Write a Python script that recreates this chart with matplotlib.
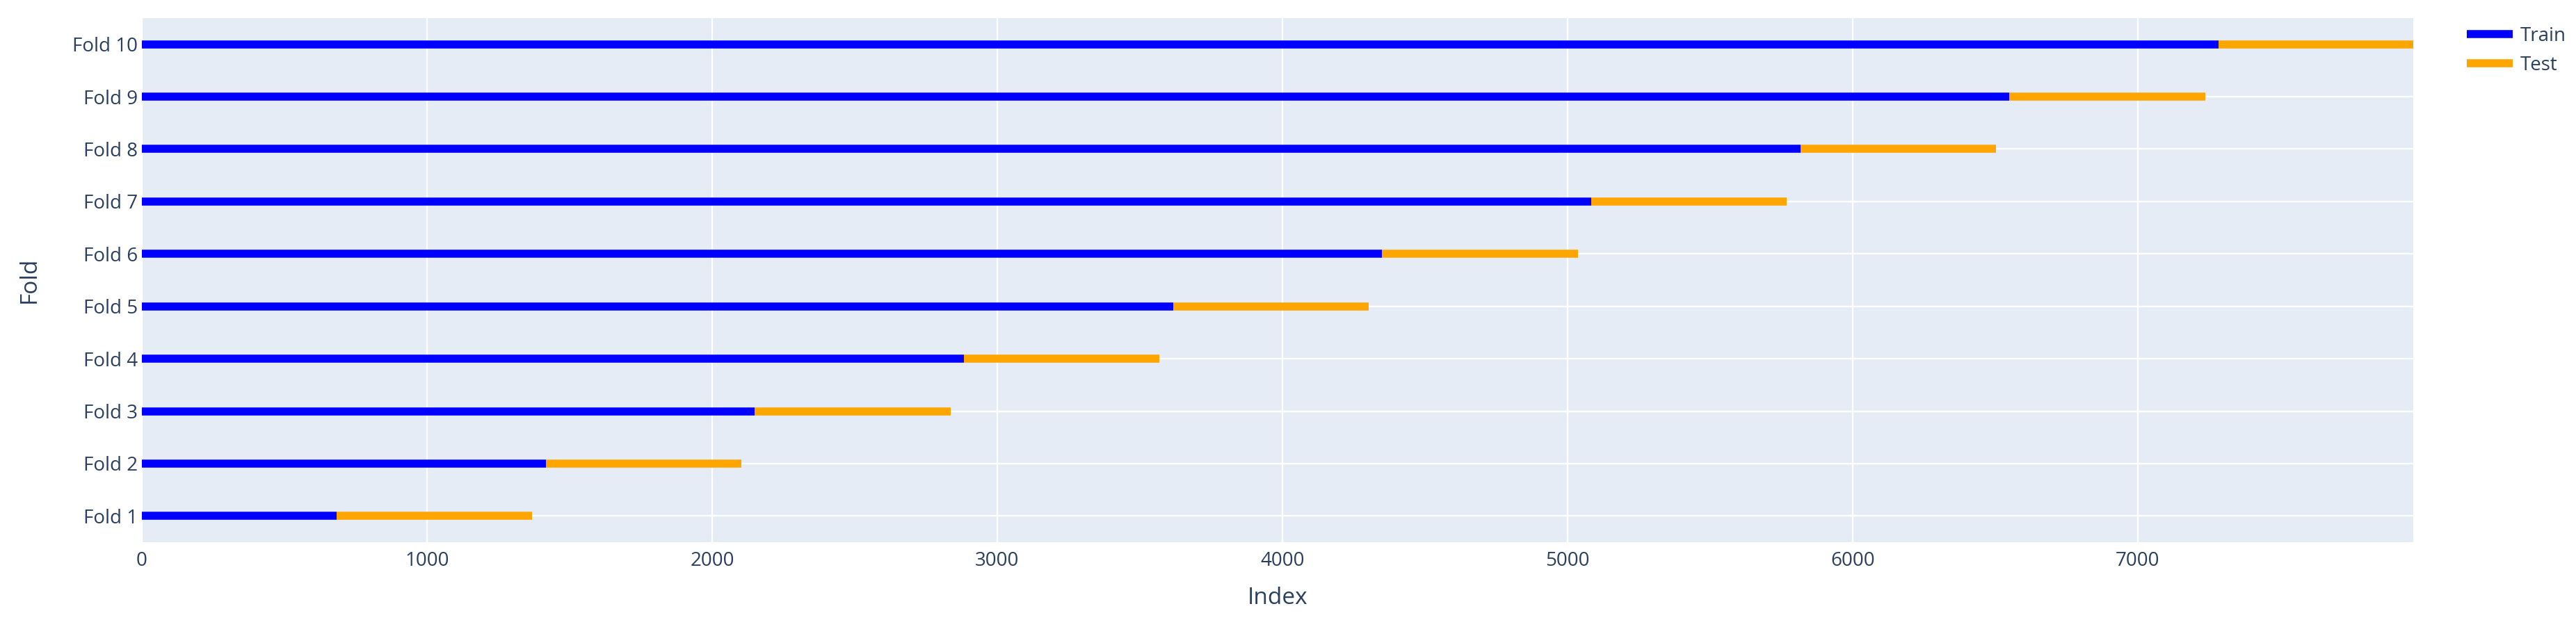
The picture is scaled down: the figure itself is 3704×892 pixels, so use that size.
import matplotlib
matplotlib.use("Agg")
import matplotlib.pyplot as plt

# fold data (index ranges)
folds = ["Fold 1", "Fold 2", "Fold 3", "Fold 4", "Fold 5",
         "Fold 6", "Fold 7", "Fold 8", "Fold 9", "Fold 10"]
train_start = [0, 0, 0, 0, 0, 0, 0, 0, 0, 0]
train_end = [682, 1416, 2150, 2883, 3616, 4350, 5083, 5816, 6550, 7283]
test_end = [1369, 2103, 2836, 3569, 4303, 5036, 5769, 6503, 7236, 7966]
x_ticks = [0, 1000, 2000, 3000, 4000, 5000, 6000, 7000]

plt.rcParams['font.family'] = ['Open Sans', 'DejaVu Sans']
txt_col = '#2a3f5f'

W, H = 3705, 892
fig = plt.figure(figsize=(W / 100, H / 100), dpi=100)
ax = fig.add_axes([204 / W, (H - 780) / H, (3470 - 204) / W, (780 - 26) / H])
ax.set_facecolor('#E5ECF6')

lw = 8.3
for i in range(len(folds)):
    ax.plot([train_start[i], train_end[i]], [i, i], color='blue',
            lw=lw, solid_capstyle='butt', label='Train' if i == 0 else None)
    ax.plot([train_end[i], test_end[i]], [i, i], color='orange',
            lw=lw, solid_capstyle='butt', label='Test' if i == 0 else None)

ax.set_xlim(0, max(test_end))
ax.set_ylim(-0.5, len(folds) - 0.5)
ax.set_xticks(x_ticks)
ax.set_yticks(range(len(folds)))
ax.set_yticklabels(folds)
ax.grid(True, color='white', lw=1.7)
ax.set_axisbelow(True)
for s in ax.spines.values():
    s.set_visible(False)
ax.tick_params(length=0, labelsize=20, labelcolor=txt_col, pad=4)
ax.tick_params(axis='x', pad=9)

ax.set_xlabel('Index', fontsize=24, color=txt_col, labelpad=17)
ax.set_ylabel('Fold', fontsize=24, color=txt_col, labelpad=33)

leg = fig.legend(loc='upper left', bbox_to_anchor=(3547 / W, 1 - 38 / H),
                 frameon=False, fontsize=20, handlelength=2.37,
                 handletextpad=0.4, labelspacing=0.5, borderpad=0,
                 borderaxespad=0)
for t in leg.get_texts():
    t.set_color(txt_col)

fig.savefig('out.png', dpi=100, facecolor='white')
